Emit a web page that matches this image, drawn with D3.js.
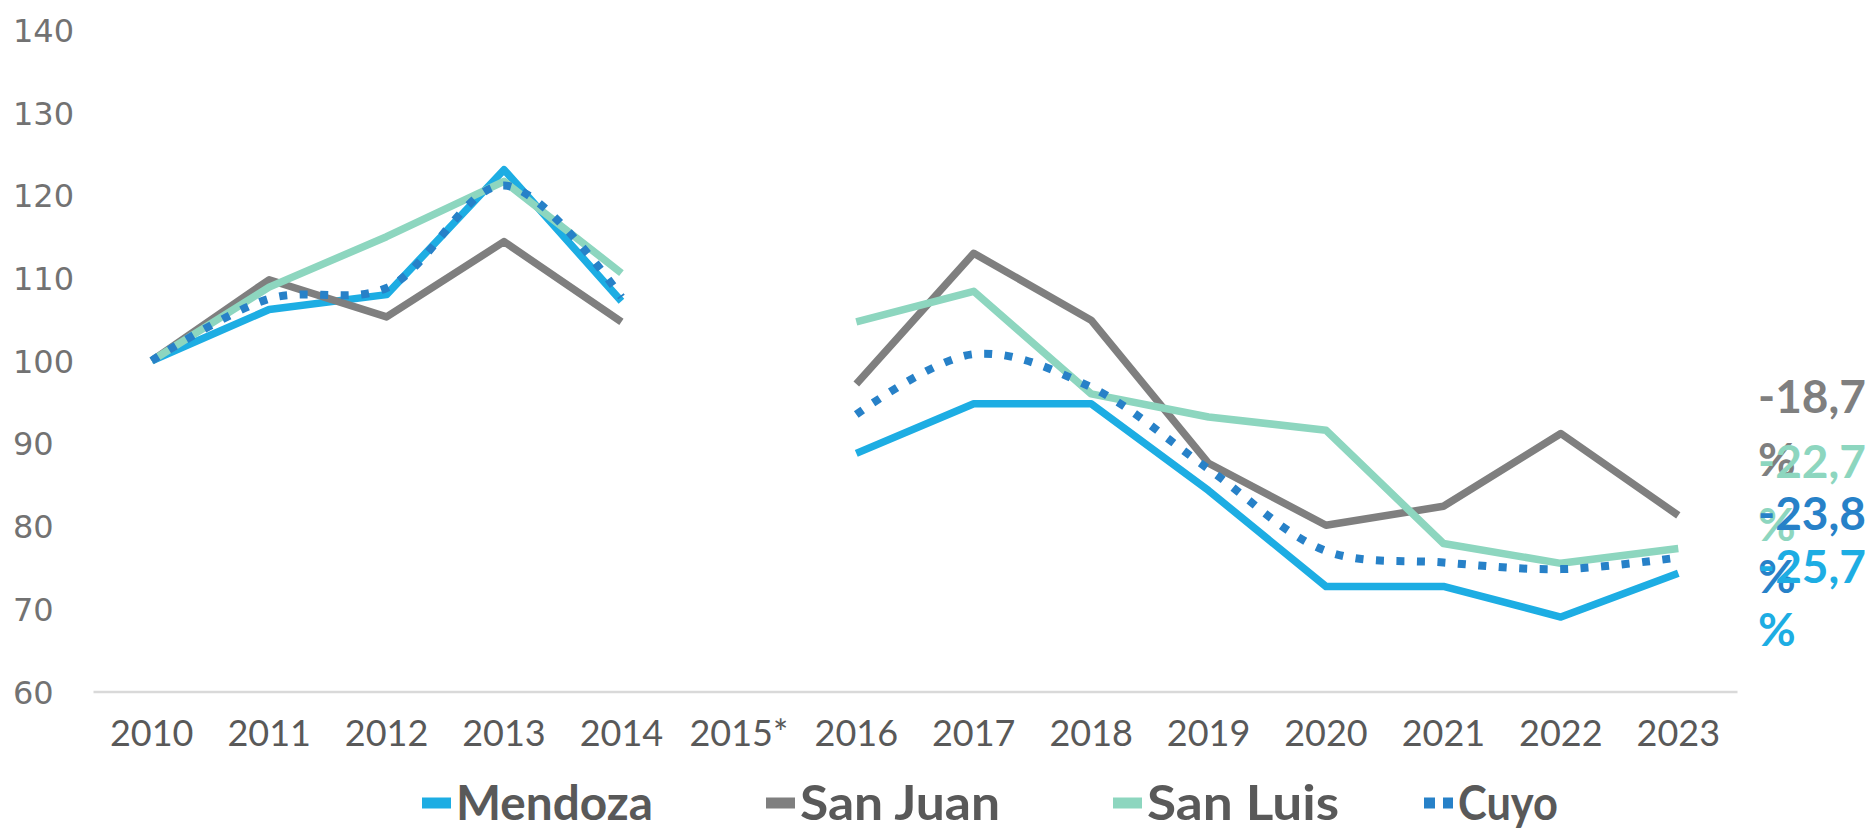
<!DOCTYPE html>
<html>
<head>
<meta charset="utf-8">
<script src="https://cdn.jsdelivr.net/npm/d3@7"></script>
<style>
  html, body { margin: 0; padding: 0; background: #ffffff; }
  svg { display: block; }
</style>
</head>
<body>
<script>
// ---------- data ----------
const years = ["2010","2011","2012","2013","2014","2015*","2016","2017","2018","2019","2020","2021","2022","2023"];
const mendoza = [100, 106.2, 108.0, 123.1, 107.2, null, 88.8, 94.8, 94.8, 84.3, 72.7, 72.7, 69.0, 74.3];
const sanJuan = [100, 109.8, 105.3, 114.4, 104.7, null, 97.2, 113.0, 104.9, 87.6, 80.1, 82.4, 91.2, 81.3];
const sanLuis = [100, 108.9, 115.0, 121.7, 110.6, null, 104.7, 108.4, 96.0, 93.2, 91.6, 77.9, 75.5, 77.3];
const cuyo    = [100, 107.5, 108.8, 121.2, 107.7, null, 93.5, 100.8, 96.8, 86.9, 77.0, 75.6, 74.8, 76.2];
const seriesNames = ["Mendoza", "San Juan", "San Luis", "Cuyo"];
const yTicks = [60, 70, 80, 90, 100, 110, 120, 130, 140];
// change 2010-2023 labels, drawn in this order (top to bottom)
const changeSeries = ["San Juan", "San Luis", "Cuyo", "Mendoza"];
const changeLabels = ["-18,7 %", "-22,7 %", "-23,8 %", "-25,7 %"];

// ---------- styles ----------
const colors = { "Mendoza": "#1dade3", "San Juan": "#7f7f7f", "San Luis": "#8dd6bf", "Cuyo": "#2781c8" };
const seriesData = { "Mendoza": mendoza, "San Juan": sanJuan, "San Luis": sanLuis, "Cuyo": cuyo };

const W = 1876, H = 829;
const svg = d3.select("body").append("svg").attr("width", W).attr("height", H);

const x = d3.scaleBand().domain(years).range([93, 1737]);
const y = d3.scaleLinear().domain([60, 140]).range([691.5, 30]);
const cx = d => x(d) + x.bandwidth() / 2;

// y axis (labels only)
const yAxis = svg.append("g").attr("transform", "translate(13,0)")
  .call(d3.axisLeft(y).tickValues(yTicks).tickSize(0).tickPadding(0).tickFormat(d3.format("d")));
yAxis.select(".domain").remove();
yAxis.selectAll("text")
  .attr("text-anchor", "start").attr("x", 0).attr("dy", "0.36em")
  .style("font-family", "'DejaVu Sans', sans-serif").style("font-size", "32px").style("fill", "#727272");

// x axis
const xAxis = svg.append("g").attr("transform", "translate(0,691.5)")
  .call(d3.axisBottom(x).tickSize(0).tickSizeOuter(0));
xAxis.select(".domain").attr("stroke", "#d9d9d9").attr("stroke-width", 2.5);
xAxis.selectAll("text")
  .attr("y", 54).attr("dy", 0)
  .style("font-family", "Lato, sans-serif").style("font-size", "36px").style("fill", "#595959");

// lines
seriesNames.forEach(name => {
  const vals = seriesData[name];
  const pts = years.map((yr, i) => ({ yr, v: vals[i] }));
  const line = d3.line()
    .defined(d => d.v != null)
    .x(d => cx(d.yr))
    .y(d => y(d.v))
    .curve(name === "Cuyo" ? d3.curveCatmullRom.alpha(0.5) : d3.curveLinear);
  const p = svg.append("path").datum(pts)
    .attr("d", line)
    .attr("fill", "none")
    .attr("stroke", colors[name])
    .attr("stroke-linejoin", "round")
    .attr("stroke-linecap", "butt");
  if (name === "Cuyo") {
    p.attr("stroke-width", 8).attr("stroke-dasharray", "8,12.5");
  } else {
    p.attr("stroke-width", 7.5);
  }
});

// change labels at right
const labelBaselines = [413, 478, 530, 583];
changeSeries.forEach((name, i) => {
  const parts = changeLabels[i].split(" ");
  const t = svg.append("text")
    .attr("x", 1758).attr("y", labelBaselines[i])
    .style("font-family", "Lato, sans-serif").style("font-weight", "bold")
    .style("font-size", "46px").style("fill", colors[name]);
  parts.forEach((p, j) => {
    t.append("tspan").attr("x", 1758).attr("dy", j === 0 ? 0 : 63).text(p);
  });
});

// legend (entry positions and text widths as laid out in the original)
const legendX = [422, 766, 1113, 1424];
const legendTextW = [197, 200, 192, 100];
seriesNames.forEach((name, i) => {
  const g = svg.append("g").attr("transform", `translate(0,803)`);
  const sw = g.append("line").attr("x1", legendX[i]).attr("x2", legendX[i] + 29).attr("y1", 0).attr("y2", 0)
    .attr("stroke", colors[name]).attr("stroke-width", 11);
  if (name === "Cuyo") sw.attr("stroke-dasharray", "11,8");
  g.append("text").attr("x", legendX[i] + 34).attr("y", 17)
    .attr("textLength", legendTextW[i]).attr("lengthAdjust", "spacingAndGlyphs")
    .style("font-family", "Lato, sans-serif").style("font-weight", "bold")
    .style("font-size", "48px").style("fill", "#595959").text(name);
});
</script>
</body>
</html>
